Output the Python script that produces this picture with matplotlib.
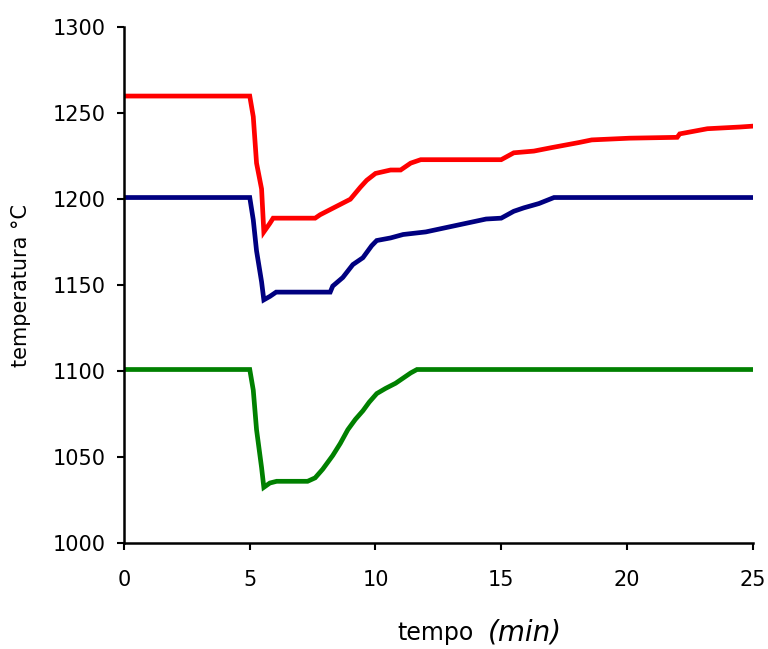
import matplotlib
matplotlib.use("Agg")
import matplotlib.pyplot as plt

# temperature histories (time in min, temperature in °C)
t_red = [0, 5.0, 5.14, 5.27, 5.47, 5.56, 5.8, 5.93, 7.6, 7.8, 8.2, 8.6, 9.0, 9.4,
         9.65, 10.0, 10.6, 11.0, 11.4, 11.8, 12.2, 15.0, 15.5, 16.3, 17.0, 18.1,
         18.6, 20.1, 22.0, 22.1, 23.2, 24.5, 25]
temp_red = [1260, 1260, 1248, 1221, 1206, 1181, 1186, 1189, 1189, 1191, 1194, 1197,
            1200, 1207, 1211, 1215, 1217, 1217, 1221, 1223, 1223, 1223, 1227, 1228,
            1230, 1233, 1234.5, 1235.5, 1236, 1238, 1241, 1242, 1242.5]

t_blue = [0, 5.0, 5.14, 5.27, 5.47, 5.56, 5.8, 6.05, 8.2, 8.3, 8.7, 9.1, 9.5, 9.85,
          10.05, 10.6, 11.1, 12.0, 12.8, 13.6, 14.4, 15.0, 15.5, 15.9, 16.5, 17.1, 25]
temp_blue = [1201, 1201, 1188, 1170, 1152, 1141.5, 1143.5, 1146, 1146, 1149.5,
             1154.5, 1162, 1166, 1173, 1176, 1177.5, 1179.5, 1181, 1183.5, 1186,
             1188.5, 1189, 1193, 1195, 1197.5, 1201, 1201]

t_green = [0, 5.0, 5.14, 5.27, 5.47, 5.56, 5.8, 6.07, 7.3, 7.6, 7.9, 8.3, 8.6, 8.9,
           9.2, 9.5, 9.75, 10.05, 10.4, 10.8, 11.1, 11.4, 11.65, 25]
temp_green = [1101, 1101, 1089, 1066, 1044, 1032.5, 1035, 1036, 1036, 1038, 1043,
              1051, 1058, 1066, 1072, 1077, 1082, 1087, 1090, 1093, 1096, 1099,
              1101, 1101]

x_ticks = [0, 5, 10, 15, 20, 25]
y_ticks = [1000, 1050, 1100, 1150, 1200, 1250, 1300]

plt.rcParams['font.family'] = 'DejaVu Sans'

fig = plt.figure(figsize=(7.68, 6.49), dpi=100)
ax = fig.add_axes([0.1615, 0.163, 0.8185, 0.795])

ax.plot(t_red, temp_red, color='#ff0000', lw=3.4, solid_joinstyle='miter')
ax.plot(t_blue, temp_blue, color='#000080', lw=3.4, solid_joinstyle='miter')
ax.plot(t_green, temp_green, color='#008000', lw=3.4, solid_joinstyle='miter')

ax.set_xlim(0, 25)
ax.set_ylim(1000, 1300)
ax.set_xticks(x_ticks)
ax.set_yticks(y_ticks)

for side in ['top', 'right']:
    ax.spines[side].set_visible(False)
for side in ['left', 'bottom']:
    ax.spines[side].set_linewidth(1.8)

ax.tick_params(direction='out', length=5, width=1.5, labelsize=15)
ax.tick_params(axis='y', pad=8)
ax.tick_params(axis='x', pad=14)

ax.set_ylabel('temperatura °C', fontsize=15, labelpad=16)

# x label: plain word plus italic unit
fig.text(474 / 768, 1 - 640 / 649, 'tempo', fontsize=17,
         ha='right', va='baseline')
fig.text(488 / 768, 1 - 641 / 649, '(min)', fontsize=20, style='italic',
         ha='left', va='baseline')

fig.savefig('out.png', dpi=100)
